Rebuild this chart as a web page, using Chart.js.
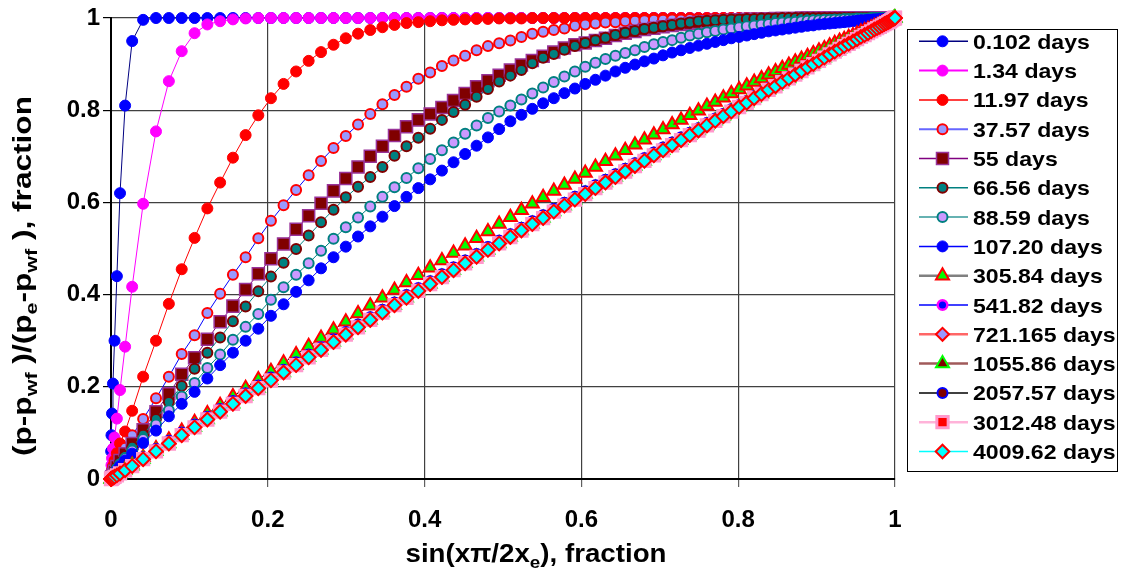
<!DOCTYPE html>
<html>
<head>
<meta charset="utf-8">
<script src="https://cdn.jsdelivr.net/npm/chart.js@4/dist/chart.umd.min.js"></script>
<style>
body { margin: 0; background: #fff; }
#wrap { width: 1121px; height: 571px; }
</style>
</head>
<body>
<div id="wrap"><canvas id="myChart" width="1121" height="571"></canvas></div>
<script>
// x axis: sin(x*pi/2xe), shared by every series
let xs = [
  0, 0.0002, 0.0006, 0.0013, 0.0025, 0.0045, 0.0075, 0.0115, 0.018, 0.027,
  0.0410, 0.0574, 0.0738, 0.0902, 0.1066, 0.1229, 0.1392, 0.1555, 0.1717, 0.1879,
  0.2040, 0.2201, 0.2361, 0.2521, 0.2679, 0.2838, 0.2995, 0.3151, 0.3307, 0.3462,
  0.3616, 0.3769, 0.3920, 0.4071, 0.4221, 0.4369, 0.4517, 0.4663, 0.4808, 0.4951,
  0.5094, 0.5235, 0.5374, 0.5512, 0.5648, 0.5783, 0.5917, 0.6049, 0.6179, 0.6307,
  0.6434, 0.6559, 0.6683, 0.6804, 0.6924, 0.7041, 0.7157, 0.7271, 0.7383, 0.7493,
  0.7601, 0.7707, 0.7811, 0.7912, 0.8012, 0.8109, 0.8204, 0.8297, 0.8388, 0.8476,
  0.8562, 0.8646, 0.8728, 0.8807, 0.8884, 0.8958, 0.9030, 0.9099, 0.9166, 0.9231,
  0.9293, 0.9352, 0.9409, 0.9464, 0.9516, 0.9565, 0.9612, 0.9656, 0.9697, 0.9736,
  0.9772, 0.9806, 0.9837, 0.9865, 0.9891, 0.9914, 0.9934, 0.9951, 0.9966, 0.9978,
  0.9988, 0.9995, 0.9999, 1
];

let y_0102 = [
  0, 0.06, 0.095, 0.142, 0.207, 0.30, 0.44, 0.62, 0.81, 0.95,
  0.996, 1, 1, 1, 1, 1, 1, 1, 1, 1,
  1, 1, 1, 1, 1, 1, 1, 1, 1, 1,
  1, 1, 1, 1, 1, 1, 1, 1, 1, 1,
  1, 1, 1, 1, 1, 1, 1, 1, 1, 1,
  1, 1, 1, 1, 1, 1, 1, 1, 1, 1,
  1, 1, 1, 1, 1, 1, 1, 1, 1, 1,
  1, 1, 1, 1, 1, 1, 1, 1, 1, 1,
  1, 1, 1, 1, 1, 1, 1, 1, 1, 1,
  1, 1, 1, 1, 1, 1, 1, 1, 1, 1,
  1, 1, 1, 1
];

let y_134 = [
  0, 0.015, 0.03, 0.045, 0.066, 0.09, 0.131, 0.193, 0.287, 0.417,
  0.597, 0.754, 0.863, 0.928, 0.967, 0.986, 0.993, 0.997, 0.999, 1,
  1, 1, 1, 1, 1, 1, 1, 1, 1, 1,
  1, 1, 1, 1, 1, 1, 1, 1, 1, 1,
  1, 1, 1, 1, 1, 1, 1, 1, 1, 1,
  1, 1, 1, 1, 1, 1, 1, 1, 1, 1,
  1, 1, 1, 1, 1, 1, 1, 1, 1, 1,
  1, 1, 1, 1, 1, 1, 1, 1, 1, 1,
  1, 1, 1, 1, 1, 1, 1, 1, 1, 1,
  1, 1, 1, 1, 1, 1, 1, 1, 1, 1,
  1, 1, 1, 1
];

let y_1197 = [
  0, 0.006, 0.012, 0.019, 0.028, 0.04, 0.056, 0.077, 0.103, 0.148,
  0.222, 0.300, 0.380, 0.455, 0.523, 0.587, 0.643, 0.697, 0.746, 0.789,
  0.826, 0.857, 0.884, 0.907, 0.926, 0.942, 0.956, 0.966, 0.974, 0.980,
  0.985, 0.989, 0.991, 0.993, 0.995, 0.996, 0.997, 0.998, 0.998, 0.999,
  0.999, 0.999, 1, 1, 1, 1, 1, 1, 1, 1,
  1, 1, 1, 1, 1, 1, 1, 1, 1, 1,
  1, 1, 1, 1, 1, 1, 1, 1, 1, 1,
  1, 1, 1, 1, 1, 1, 1, 1, 1, 1,
  1, 1, 1, 1, 1, 1, 1, 1, 1, 1,
  1, 1, 1, 1, 1, 1, 1, 1, 1, 1,
  1, 1, 1, 1
];

let y_3757 = [
  0, 0.001, 0.003, 0.007, 0.012, 0.02, 0.03, 0.045, 0.068, 0.095,
  0.130, 0.175, 0.222, 0.271, 0.312, 0.360, 0.402, 0.443, 0.481, 0.522,
  0.560, 0.594, 0.627, 0.659, 0.690, 0.718, 0.744, 0.769, 0.792, 0.813,
  0.833, 0.851, 0.868, 0.882, 0.896, 0.908, 0.918, 0.930, 0.939, 0.945,
  0.951, 0.959, 0.966, 0.970, 0.974, 0.977, 0.983, 0.986, 0.988, 0.990,
  0.991, 0.993, 0.994, 0.995, 0.996, 0.996, 0.997, 0.997, 0.998, 0.998,
  0.998, 0.999, 0.999, 0.999, 0.999, 1, 1, 1, 1, 1,
  1, 1, 1, 1, 1, 1, 1, 1, 1, 1,
  1, 1, 1, 1, 1, 1, 1, 1, 1, 1,
  1, 1, 1, 1, 1, 1, 1, 1, 1, 1,
  1, 1, 1, 1
];

let y_55 = [
  0, 0.001, 0.003, 0.005, 0.01, 0.017, 0.027, 0.04, 0.055, 0.077,
  0.107, 0.146, 0.185, 0.227, 0.263, 0.303, 0.341, 0.375, 0.411, 0.445,
  0.478, 0.510, 0.542, 0.571, 0.598, 0.625, 0.652, 0.677, 0.700, 0.722,
  0.745, 0.764, 0.779, 0.792, 0.806, 0.821, 0.836, 0.851, 0.864, 0.876,
  0.887, 0.898, 0.908, 0.917, 0.926, 0.935, 0.942, 0.946, 0.951, 0.956,
  0.962, 0.967, 0.971, 0.975, 0.978, 0.981, 0.984, 0.986, 0.988, 0.990,
  0.992, 0.993, 0.994, 0.995, 0.996, 0.997, 0.997, 0.998, 0.998, 0.999,
  0.999, 0.999, 0.999, 1, 1, 1, 1, 1, 1, 1,
  1, 1, 1, 1, 1, 1, 1, 1, 1, 1,
  1, 1, 1, 1, 1, 1, 1, 1, 1, 1,
  1, 1, 1, 1
];

let y_6656 = [
  0, 0.001, 0.002, 0.005, 0.009, 0.016, 0.025, 0.036, 0.05, 0.07,
  0.096, 0.130, 0.167, 0.202, 0.239, 0.274, 0.307, 0.342, 0.374, 0.407,
  0.439, 0.469, 0.499, 0.528, 0.557, 0.584, 0.611, 0.634, 0.655, 0.677,
  0.701, 0.722, 0.740, 0.760, 0.779, 0.796, 0.812, 0.829, 0.846, 0.862,
  0.875, 0.887, 0.902, 0.914, 0.922, 0.931, 0.939, 0.946, 0.952, 0.957,
  0.963, 0.968, 0.972, 0.976, 0.979, 0.982, 0.985, 0.988, 0.990, 0.993,
  0.994, 0.995, 0.996, 0.997, 0.997, 0.998, 0.998, 0.999, 0.999, 0.999,
  1, 1, 1, 1, 1, 1, 1, 1, 1, 1,
  1, 1, 1, 1, 1, 1, 1, 1, 1, 1,
  1, 1, 1, 1, 1, 1, 1, 1, 1, 1,
  1, 1, 1, 1
];

let y_8859 = [
  0, 0.001, 0.002, 0.004, 0.008, 0.014, 0.022, 0.032, 0.045, 0.062,
  0.087, 0.118, 0.149, 0.179, 0.208, 0.241, 0.270, 0.302, 0.330, 0.358,
  0.389, 0.416, 0.443, 0.468, 0.495, 0.521, 0.546, 0.567, 0.591, 0.612,
  0.633, 0.653, 0.674, 0.694, 0.713, 0.730, 0.749, 0.767, 0.783, 0.797,
  0.810, 0.823, 0.836, 0.849, 0.861, 0.873, 0.884, 0.894, 0.903, 0.911,
  0.918, 0.924, 0.930, 0.937, 0.943, 0.948, 0.952, 0.957, 0.962, 0.966,
  0.969, 0.972, 0.975, 0.977, 0.980, 0.982, 0.984, 0.986, 0.987, 0.989,
  0.990, 0.991, 0.992, 0.993, 0.994, 0.995, 0.995, 0.996, 0.996, 0.997,
  0.997, 0.998, 0.998, 0.998, 0.999, 0.999, 0.999, 0.999, 1, 1,
  1, 1, 1, 1, 1, 1, 1, 1, 1, 1,
  1, 1, 1, 1
];

let y_10720 = [
  0, 0.001, 0.002, 0.004, 0.007, 0.012, 0.019, 0.028, 0.04, 0.055,
  0.078, 0.105, 0.136, 0.163, 0.189, 0.218, 0.247, 0.274, 0.300, 0.326,
  0.354, 0.379, 0.406, 0.431, 0.457, 0.481, 0.504, 0.526, 0.548, 0.569,
  0.592, 0.612, 0.631, 0.650, 0.669, 0.687, 0.705, 0.723, 0.741, 0.759,
  0.776, 0.790, 0.803, 0.815, 0.826, 0.837, 0.847, 0.857, 0.866, 0.875,
  0.884, 0.892, 0.899, 0.906, 0.912, 0.919, 0.925, 0.930, 0.935, 0.940,
  0.944, 0.948, 0.952, 0.956, 0.959, 0.962, 0.965, 0.968, 0.971, 0.973,
  0.975, 0.977, 0.979, 0.981, 0.983, 0.984, 0.986, 0.987, 0.988, 0.989,
  0.990, 0.991, 0.992, 0.993, 0.994, 0.995, 0.995, 0.996, 0.996, 0.997,
  0.997, 0.998, 0.998, 0.998, 0.999, 0.999, 0.999, 1, 1, 1,
  1, 1, 1, 1
];

let y_30584 = [
  0, 0.0002, 0.0007, 0.0015, 0.003, 0.005, 0.009, 0.013, 0.021, 0.031,
  0.047, 0.066, 0.085, 0.104, 0.123, 0.142, 0.160, 0.179, 0.197, 0.216,
  0.234, 0.252, 0.270, 0.288, 0.306, 0.324, 0.341, 0.359, 0.376, 0.393,
  0.410, 0.426, 0.442, 0.458, 0.474, 0.490, 0.506, 0.522, 0.537, 0.553,
  0.568, 0.583, 0.597, 0.611, 0.625, 0.638, 0.651, 0.664, 0.677, 0.689,
  0.701, 0.713, 0.725, 0.736, 0.747, 0.758, 0.769, 0.779, 0.789, 0.799,
  0.809, 0.818, 0.827, 0.836, 0.845, 0.853, 0.861, 0.869, 0.877, 0.884,
  0.891, 0.898, 0.905, 0.911, 0.917, 0.923, 0.929, 0.934, 0.940, 0.945,
  0.950, 0.954, 0.958, 0.962, 0.966, 0.970, 0.973, 0.976, 0.979, 0.982,
  0.984, 0.987, 0.989, 0.991, 0.992, 0.994, 0.995, 0.996, 0.997, 0.998,
  0.999, 1, 1, 1
];

let y_54182 = [
  0, 0.0003, 0.0008, 0.0017, 0.003, 0.0053, 0.0087, 0.013, 0.021, 0.031,
  0.047, 0.065, 0.083, 0.101, 0.118, 0.135, 0.152, 0.169, 0.186, 0.203,
  0.220, 0.237, 0.253, 0.270, 0.286, 0.303, 0.319, 0.335, 0.351, 0.367,
  0.383, 0.399, 0.414, 0.429, 0.444, 0.459, 0.474, 0.488, 0.503, 0.517,
  0.531, 0.545, 0.559, 0.572, 0.586, 0.599, 0.612, 0.624, 0.637, 0.649,
  0.661, 0.673, 0.685, 0.696, 0.708, 0.719, 0.730, 0.741, 0.751, 0.761,
  0.772, 0.782, 0.792, 0.802, 0.811, 0.820, 0.830, 0.839, 0.848, 0.856,
  0.865, 0.873, 0.881, 0.889, 0.896, 0.903, 0.910, 0.917, 0.924, 0.930,
  0.936, 0.941, 0.946, 0.951, 0.956, 0.961, 0.965, 0.969, 0.973, 0.976,
  0.979, 0.982, 0.985, 0.988, 0.990, 0.992, 0.994, 0.996, 0.997, 0.998,
  0.999, 1, 1, 1
];

let y_400962 = [
  0, 0.0002, 0.0006, 0.0014, 0.0026, 0.0047, 0.0079, 0.012, 0.019, 0.028,
  0.043, 0.060, 0.077, 0.095, 0.112, 0.129, 0.146, 0.163, 0.180, 0.197,
  0.214, 0.231, 0.247, 0.264, 0.280, 0.297, 0.313, 0.329, 0.345, 0.361,
  0.377, 0.393, 0.408, 0.423, 0.438, 0.453, 0.468, 0.482, 0.497, 0.511,
  0.525, 0.539, 0.553, 0.566, 0.580, 0.593, 0.606, 0.618, 0.631, 0.643,
  0.655, 0.667, 0.679, 0.690, 0.702, 0.713, 0.724, 0.735, 0.746, 0.756,
  0.767, 0.777, 0.787, 0.797, 0.807, 0.816, 0.826, 0.835, 0.844, 0.852,
  0.861, 0.869, 0.877, 0.885, 0.893, 0.900, 0.907, 0.914, 0.921, 0.927,
  0.933, 0.939, 0.944, 0.949, 0.954, 0.959, 0.963, 0.967, 0.971, 0.975,
  0.978, 0.981, 0.984, 0.987, 0.989, 0.991, 0.993, 0.995, 0.997, 0.998,
  0.999, 1, 1, 1
];

// the late-time curves sit on top of each other in the picture
let y_721165 = y_400962;
let y_105586 = y_400962;
let y_205757 = y_54182;
let y_301248 = y_400962;

let labels = ["0.102 days", "1.34 days", "11.97 days", "37.57 days", "55 days",
  "66.56 days", "88.59 days", "107.20 days", "305.84 days", "541.82 days",
  "721.165 days", "1055.86 days", "2057.57 days", "3012.48 days", "4009.62 days"];

let series = [y_0102, y_134, y_1197, y_3757, y_55, y_6656, y_8859, y_10720,
  y_30584, y_54182, y_721165, y_105586, y_205757, y_301248, y_400962];

let styles = [
  {line: "#000080", bg: "#0000ff", bd: "#0000ff", shape: "circle", r: 5.5, bw: 1, lw: 1.5},
  {line: "#ff00ff", bg: "#ff00ff", bd: "#ff00ff", shape: "circle", r: 5.5, bw: 1, lw: 2},
  {line: "#ff0000", bg: "#ff0000", bd: "#ff0000", shape: "circle", r: 5.5, bw: 1, lw: 1.5},
  {line: "#0000ff", bg: "#9999ff", bd: "#ff0000", shape: "circle", r: 5, bw: 2, lw: 2, legendLine: "#6666ff"},
  {line: "#800080", bg: "#800000", bd: "#993399", shape: "rect", r: 8.5, bw: 1.5, lw: 1.5},
  {line: "#008080", bg: "#008080", bd: "#800000", shape: "circle", r: 5, bw: 2, lw: 1.5},
  {line: "#008080", bg: "#cc99ff", bd: "#008080", shape: "circle", r: 5, bw: 2, lw: 1.5, legendLine: "#339999"},
  {line: "#0000ff", bg: "#0000ff", bd: "#0000ff", shape: "circle", r: 5.5, bw: 1, lw: 1.5},
  {line: "#222222", bg: "#00ff00", bd: "#ff0000", shape: "triangle", r: 7.5, bw: 2, lw: 2.5, legendLine: "#808080"},
  {line: "#0000ff", bg: "#0000ff", bd: "#ff00ff", shape: "circle", r: 4.8, bw: 2.5, lw: 1.5},
  {line: "#ff6666", bg: "#9999ff", bd: "#ff0000", shape: "rectRot", r: 6.5, bw: 2, lw: 2.5},
  {line: "#993333", bg: "#800000", bd: "#00ff00", shape: "triangle", r: 7.5, bw: 2, lw: 2.5, legendLine: "#a05a5a"},
  {line: "#000000", bg: "#800000", bd: "#0000ff", shape: "circle", r: 5, bw: 2, lw: 1.5},
  {line: "#ffb3d9", bg: "#ff0000", bd: "#ff99cc", shape: "rect", r: 8, bw: 3, lw: 2.5},
  {line: "#00ffff", bg: "#00ffff", bd: "#ff0000", shape: "rectRot", r: 6.8, bw: 2, lw: 1.5}
];

const FAMILY = "'Liberation Sans', Arial, sans-serif";

function make_points(ys) {
  return xs.map((x, i) => ({x: x, y: ys[i]}));
}

function font_of(size) {
  return "bold " + size + "px " + FAMILY;
}

// text with subscripts, centred on the origin, stretched to a given width
function draw_rich(ctx, parts, size, target) {
  let widths = parts.map(p => {
    ctx.font = font_of(p.sub ? size * 0.68 : size);
    return ctx.measureText(p.t).width;
  });
  let total = widths.reduce((a, b) => a + b, 0);
  let sx = target ? target / total : 1;
  ctx.scale(sx, 1);
  let x = -total / 2;
  parts.forEach((p, i) => {
    ctx.font = font_of(p.sub ? size * 0.68 : size);
    ctx.fillText(p.t, x, p.sub ? size * 0.22 : 0);
    x += widths[i];
  });
}

let extras = {
  id: "extras",
  afterDraw(chart) {
    let ctx = chart.ctx;
    ctx.save();
    ctx.fillStyle = "#000";
    ctx.textAlign = "left";
    ctx.textBaseline = "alphabetic";

    // x title
    ctx.save();
    ctx.translate(536, 562);
    draw_rich(ctx, [{t: "sin(x\u03c0/2x"}, {t: "e", sub: true}, {t: "), fraction"}], 25, 261);
    ctx.restore();

    // y title
    ctx.save();
    ctx.translate(31, 276);
    ctx.rotate(-Math.PI / 2);
    draw_rich(ctx, [{t: "(p-p"}, {t: "wf", sub: true}, {t: " )/(p"}, {t: "e", sub: true},
      {t: "-p"}, {t: "wf", sub: true}, {t: " ), fraction"}], 25, 360);
    ctx.restore();

    // legend box
    ctx.strokeStyle = "#000";
    ctx.lineWidth = 1;
    ctx.strokeRect(907.5, 29.5, 210, 442);

    labels.forEach((lab, i) => {
      let st = styles[i];
      let y = 41.3 + 29.3 * i;
      ctx.beginPath();
      ctx.strokeStyle = st.legendLine || st.line;
      ctx.lineWidth = st.lw;
      ctx.moveTo(919, y);
      ctx.lineTo(968, y);
      ctx.stroke();

      ctx.fillStyle = st.bg;
      ctx.strokeStyle = st.bd;
      ctx.lineWidth = st.bw;
      Chart.helpers.drawPoint(ctx, {pointStyle: st.shape, radius: st.r, rotation: 0, borderWidth: st.bw}, 942.5, y);

      ctx.save();
      ctx.fillStyle = "#000";
      ctx.translate(973, y + 7.5);
      ctx.scale(1.1, 1);
      ctx.font = font_of(21);
      ctx.fillText(lab, 0, 0);
      ctx.restore();
    });
    ctx.restore();
  }
};

let tick_font = {family: FAMILY, size: 24, weight: "bold"};

new Chart("myChart", {
  type: "scatter",
  data: {
    datasets: labels.map((lab, i) => {
      let st = styles[i];
      return {
        label: lab,
        data: make_points(series[i]),
        showLine: true,
        borderColor: st.line,
        borderWidth: 1,
        pointStyle: st.shape,
        pointRadius: st.r,
        pointHoverRadius: st.r,
        pointBackgroundColor: st.bg,
        pointBorderColor: st.bd,
        pointBorderWidth: st.bw,
        clip: false,
        order: 14 - i
      };
    })
  },
  options: {
    responsive: false,
    animation: false,
    events: [],
    layout: {padding: {left: 0, right: 226, top: 18, bottom: 0}},
    plugins: {legend: {display: false}, tooltip: {enabled: false}},
    scales: {
      x: {
        type: "linear", min: 0, max: 1,
        ticks: {stepSize: 0.2, color: "#000", font: tick_font, padding: 19, maxRotation: 0,
          callback: v => String(+v.toFixed(1))},
        grid: {color: "#404040", lineWidth: 1.2, tickLength: 8, tickColor: "#606060"},
        border: {color: "#000", width: 2},
        afterFit: s => { s.height = 92; }
      },
      y: {
        min: 0, max: 1,
        ticks: {stepSize: 0.2, color: "#000", font: tick_font, padding: 3,
          callback: v => String(+v.toFixed(1))},
        grid: {color: "#404040", lineWidth: 1.2, tickLength: 8, tickColor: "#000"},
        border: {color: "#000", width: 2},
        afterFit: s => { s.width = 111; }
      }
    }
  },
  plugins: [extras]
});
</script>
</body>
</html>
